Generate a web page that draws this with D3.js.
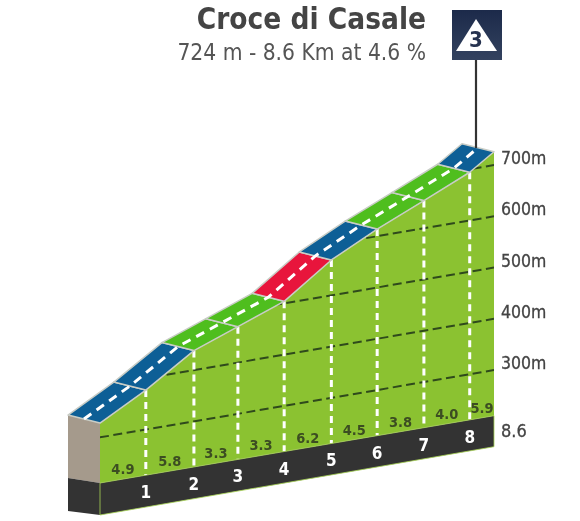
<!DOCTYPE html>
<html><head><meta charset="utf-8">
<script src="https://cdn.jsdelivr.net/npm/d3@7"></script>
<style>html,body{margin:0;padding:0;background:#fff}svg{display:block;filter:blur(0.35px)}text{font-family:"DejaVu Sans Condensed","DejaVu Sans",sans-serif;font-stretch:condensed}</style>
</head><body><svg id="c" width="580" height="521"></svg>
<script>
const title = "Croce di Casale";
const subtitle = "724 m - 8.6 Km at 4.6 %";
const category = "3";
const distances = [0, 1, 2.05, 3.01, 4.02, 5.05, 6.05, 7.07, 8.07, 8.6];
const elevations = [328, 377, 438, 470, 504, 569, 614, 654, 694, 726];
const gradients = [4.9, 5.8, 3.3, 3.3, 6.2, 4.5, 3.8, 4.0, 5.9];
const kmLabels = ["1", "2", "3", "4", "5", "6", "7", "8"];
const elevTicks = [300, 400, 500, 600, 700];
const baseElev = 211, topElev = 726, totalKm = 8.6;

const svg = d3.select("#c");
const x = d3.scaleLinear().domain([0, totalKm]).range([100, 494]);
const baseY = d3.scaleLinear().domain([0, totalKm]).range([483, 415.7]);
const rise = d3.scaleLinear().domain([baseElev, topElev]).range([0, 264]);
const Y = (km, e) => baseY(km) - rise(e);
const roadColor = d3.scaleThreshold().domain([4.2, 6]).range(["#4fbe1e", "#0d5f96", "#e8153c"]);
const dx = -32, dy = -8, stripH = 31;
const pts = distances.map((d, i) => [x(d), Y(d, elevations[i])]);
const poly = p => "M" + p.map(q => q.join(",")).join("L") + "Z";

const defs = svg.append("defs");
defs.append("clipPath").attr("id", "prof").append("path")
  .attr("d", poly([...pts, [x(totalKm), baseY(totalKm)], [x(0), baseY(0)]]));
const g = defs.append("linearGradient").attr("id", "badge").attr("x1", 0).attr("x2", 0).attr("y1", 0).attr("y2", 1);
g.append("stop").attr("offset", 0).attr("stop-color", "#1c2a4a");
g.append("stop").attr("offset", 1).attr("stop-color", "#33425f");

// wall on the left
svg.append("path").attr("fill", "#a59a8c")
  .attr("d", poly([pts[0], [pts[0][0] + dx, pts[0][1] + dy], [pts[0][0] + dx, baseY(0) - 5], [x(0), baseY(0)]]));
svg.append("path").attr("fill", "#333333")
  .attr("d", poly([[x(0) + dx, baseY(0) - 5], [x(0), baseY(0)], [x(0), baseY(0) + stripH + 1], [x(0) + dx, baseY(0) + stripH - 3]]));

// profile
svg.append("path").attr("fill", "#8bc231")
  .attr("d", poly([...pts, [x(totalKm), baseY(totalKm)], [x(0), baseY(0)]]));

// elevation lines
svg.append("g").attr("clip-path", "url(#prof)").selectAll("line").data(elevTicks).join("line")
  .attr("x1", x(0)).attr("x2", x(totalKm))
  .attr("y1", e => Y(0, e)).attr("y2", e => Y(totalKm, e))
  .attr("stroke", "#2f4a1c").attr("stroke-width", 2).attr("stroke-dasharray", "9 4.5");

// kilometre lines
svg.append("g").selectAll("line").data(kmLabels).join("line")
  .attr("x1", (d, i) => pts[i + 1][0]).attr("x2", (d, i) => pts[i + 1][0])
  .attr("y1", (d, i) => pts[i + 1][1]).attr("y2", (d, i) => baseY(distances[i + 1]))
  .attr("stroke", "#fff").attr("stroke-width", 3).attr("stroke-dasharray", "7 5");

// bottom strip
svg.append("path").attr("fill", "#333333").attr("stroke", "#a9d655").attr("stroke-width", 0.8)
  .attr("d", poly([[x(0), baseY(0)], [x(totalKm), baseY(totalKm)], [x(totalKm), baseY(totalKm) + stripH], [x(0), baseY(0) + stripH + 1]]));

// road
svg.append("g").selectAll("path").data(gradients).join("path")
  .attr("fill", d => roadColor(d)).attr("stroke", "#c9cdc6").attr("stroke-width", 1.5).attr("stroke-linejoin", "round")
  .attr("d", (d, i) => poly([pts[i], pts[i + 1], [pts[i + 1][0] + dx, pts[i + 1][1] + dy], [pts[i][0] + dx, pts[i][1] + dy]]));
svg.append("path").attr("fill", "none").attr("stroke", "#fff").attr("stroke-width", 3).attr("stroke-dasharray", "9 6.5")
  .attr("d", d3.line()(pts.map(p => [p[0] + dx / 2, p[1] + dy / 2])));

// gradient labels
svg.append("g").selectAll("text").data(gradients).join("text")
  .attr("x", (d, i) => i === 8 ? x(distances[i + 1]) - 12 : x((distances[i] + distances[i + 1]) / 2))
  .attr("y", (d, i) => baseY((distances[i] + distances[i + 1]) / 2) - 5)
  .attr("text-anchor", "middle").attr("font-size", 14.5).attr("font-weight", "bold").attr("fill", "#3c4d22")
  .text(d => d.toFixed(1));

// km labels
svg.append("g").selectAll("text").data(kmLabels).join("text")
  .attr("x", (d, i) => x(distances[i + 1]))
  .attr("y", (d, i) => baseY(distances[i + 1]) + 23)
  .attr("text-anchor", "middle").attr("font-size", 17).attr("font-weight", "bold").attr("fill", "#fff")
  .text(d => d);

// elevation labels
svg.append("g").selectAll("text").data(elevTicks).join("text")
  .attr("x", 501).attr("y", e => Y(totalKm, e) - 1)
  .attr("font-size", 17.5).attr("fill", "#444").attr("stroke", "#444").attr("stroke-width", 0.3)
  .text(e => e + "m");
svg.append("text").attr("x", 501).attr("y", 437).attr("font-size", 18).attr("fill", "#444").attr("stroke", "#444").attr("stroke-width", 0.3).text(totalKm.toFixed(1));

// title
svg.append("text").attr("x", 426).attr("y", 29).attr("text-anchor", "end").attr("font-size", 29.5).attr("font-weight", "bold").attr("fill", "#444").text(title);
svg.append("text").attr("x", 426).attr("y", 60).attr("text-anchor", "end").attr("font-size", 22.6).attr("fill", "#555").text(subtitle);

// category badge
svg.append("line").attr("x1", 476).attr("x2", 476).attr("y1", 58).attr("y2", 148).attr("stroke", "#333").attr("stroke-width", 2.2);
svg.append("rect").attr("x", 452).attr("y", 10).attr("width", 50).attr("height", 50).attr("fill", "url(#badge)");
svg.append("path").attr("fill", "#fff").attr("d", poly([[476, 19], [497, 51], [456, 51]]));
svg.append("text").attr("x", 476).attr("y", 47).attr("text-anchor", "middle").attr("font-size", 22).attr("font-weight", "bold").attr("fill", "#26324f").text(category);
</script></body></html>
